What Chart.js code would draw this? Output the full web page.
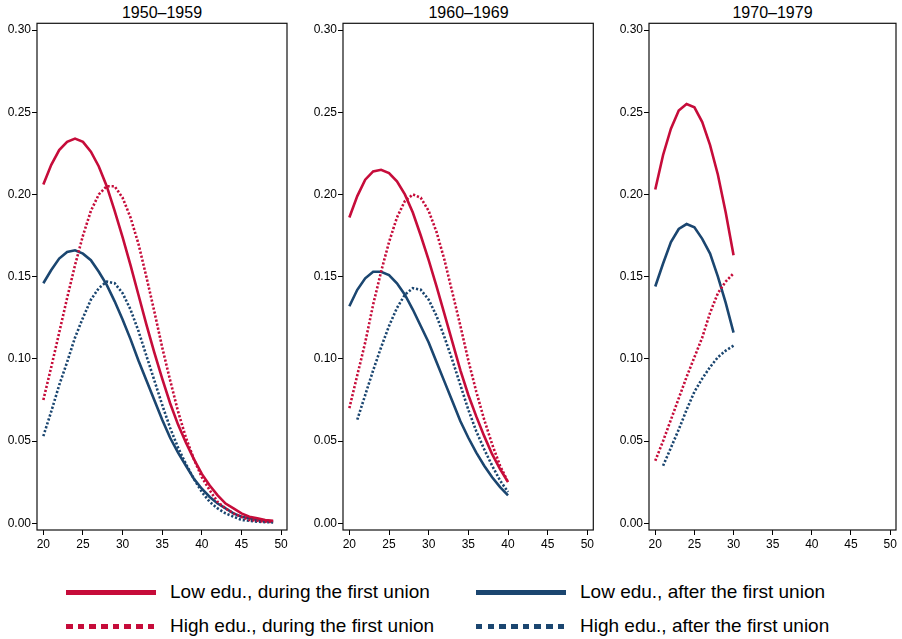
<!DOCTYPE html>
<html>
<head>
<meta charset="utf-8">
<script src="https://cdn.jsdelivr.net/npm/chart.js@4.4.1/dist/chart.umd.min.js"></script>
<style>
  html, body { margin:0; padding:0; background:#fff; width:902px; height:639px; overflow:hidden; }
  body { position:relative; font-family:'Liberation Sans', Arial, sans-serif; }
  .panel { position:absolute; top:0; }
  .title { position:absolute; top:3px; font-size:16px; color:#000; text-align:center; line-height:20px; }
  .legend-item { position:absolute; display:flex; align-items:center; font-size:19px; color:#000; height:26px; white-space:nowrap; }
  .sw { width:90px; height:5px; margin-right:14px; flex:none; }
</style>
</head>
<body>
<div class="title" style="left:37px;width:250px;">1950–1959</div>
<div class="title" style="left:343px;width:251px;">1960–1969</div>
<div class="title" style="left:649px;width:247px;">1970–1979</div>
<div class="panel" style="left:0px;width:295px;height:556px;"><canvas id="c1"></canvas></div>
<div class="panel" style="left:306px;width:295px;height:556px;"><canvas id="c2"></canvas></div>
<div class="panel" style="left:612px;width:290px;height:556px;"><canvas id="c3"></canvas></div>

<div class="legend-item" style="left:66px;top:579px;"><div class="sw" style="background:#C60C3A;"></div>Low edu., during the first union</div>
<div class="legend-item" style="left:476px;top:579px;"><div class="sw" style="background:#1B4670;"></div>Low edu., after the first union</div>
<div class="legend-item" style="left:66px;top:613px;"><div class="sw" style="background:repeating-linear-gradient(to right,#C60C3A 0 6.5px,transparent 6.5px 11.7px);"></div>High edu., during the first union</div>
<div class="legend-item" style="left:476px;top:613px;"><div class="sw" style="background:repeating-linear-gradient(to right,#1B4670 0 6.5px,transparent 6.5px 11.7px);"></div>High edu., after the first union</div>

<script>
// ---- data ----
const xTicks = [20, 25, 30, 35, 40, 45, 50];
const yTicks = [0, 0.05, 0.10, 0.15, 0.20, 0.25, 0.30];
const seriesNames = ["Low edu., during the first union", "High edu., during the first union",
                     "Low edu., after the first union", "High edu., after the first union"];

// 1950–1959
const ages1 = [20,21,22,23,24,25,26,27,28,29,30,31,32,33,34,35,36,37,38,39,40,41,42,43,44,45,46,47,48,49];
const lowDuring1  = [0.206,0.218,0.227,0.232,0.234,0.232,0.226,0.217,0.205,0.190,0.174,0.157,0.139,0.121,0.104,0.088,0.073,0.060,0.049,0.039,0.030,0.023,0.017,0.012,0.009,0.006,0.004,0.003,0.002,0.0015];
const highDuring1 = [0.075,0.095,0.116,0.137,0.157,0.175,0.190,0.200,0.205,0.205,0.198,0.186,0.170,0.150,0.129,0.107,0.087,0.068,0.052,0.039,0.028,0.020,0.013,0.009,0.006,0.004,0.002,0.0015,0.001,0.0008];
const lowAfter1   = [0.146,0.154,0.161,0.165,0.166,0.164,0.160,0.153,0.145,0.135,0.124,0.112,0.099,0.087,0.075,0.063,0.052,0.043,0.035,0.027,0.021,0.016,0.012,0.009,0.006,0.004,0.003,0.002,0.0015,0.001];
const highAfter1  = [0.053,0.068,0.084,0.098,0.113,0.125,0.136,0.143,0.147,0.146,0.140,0.130,0.117,0.102,0.087,0.072,0.058,0.046,0.036,0.027,0.019,0.013,0.009,0.006,0.004,0.002,0.0015,0.001,0.0007,0.0005];

// 1960–1969
const ages2 = [20,21,22,23,24,25,26,27,28,29,30,31,32,33,34,35,36,37,38,39,40];
const lowDuring2  = [0.186,0.199,0.209,0.214,0.215,0.213,0.208,0.200,0.189,0.175,0.160,0.144,0.127,0.110,0.093,0.078,0.065,0.053,0.042,0.033,0.025];
const highDuring2 = [0.070,0.090,0.110,0.133,0.153,0.171,0.186,0.196,0.200,0.198,0.190,0.177,0.160,0.140,0.120,0.099,0.080,0.063,0.048,0.035,0.025];
const lowAfter2   = [0.132,0.142,0.149,0.153,0.153,0.151,0.146,0.139,0.130,0.120,0.110,0.098,0.086,0.074,0.062,0.052,0.043,0.035,0.028,0.022,0.017];
const agesHighAfter2 = [21,22,23,24,25,26,27,28,29,30,31,32,33,34,35,36,37,38,39,40];
const highAfter2  = [0.063,0.078,0.093,0.107,0.120,0.131,0.139,0.143,0.142,0.136,0.126,0.113,0.099,0.084,0.069,0.056,0.045,0.035,0.026,0.019];

// 1970–1979
const ages3 = [20,21,22,23,24,25,26,27,28,29,30];
const lowDuring3  = [0.203,0.224,0.240,0.251,0.255,0.253,0.244,0.230,0.212,0.189,0.163];
const highDuring3 = [0.038,0.050,0.063,0.076,0.089,0.101,0.113,0.128,0.140,0.147,0.152];
const lowAfter3   = [0.144,0.158,0.171,0.179,0.182,0.180,0.173,0.164,0.150,0.134,0.116];
const agesHighAfter3 = [21,22,23,24,25,26,27,28,29,30];
const highAfter3  = [0.035,0.046,0.057,0.069,0.080,0.088,0.095,0.101,0.105,0.108];

// ---- styling ----
const RED = '#C60C3A', BLUE = '#1B4670';
const FONT = "'Liberation Sans', Arial, sans-serif";
const pts = (xs, ys) => xs.map((x, i) => ({x, y: ys[i]}));

const framePlugin = {
  id: 'frame',
  afterDraw(chart) {
    const {ctx, chartArea: a} = chart;
    ctx.save();
    ctx.strokeStyle = '#111';
    ctx.lineWidth = 1.2;
    ctx.strokeRect(a.left, a.top, a.right - a.left, a.bottom - a.top);
    ctx.restore();
  }
};

function makeChart(id, padRight, sets) {
  const styles = [
    {color: RED, dash: []},
    {color: RED, dash: [2.2, 1.9]},
    {color: BLUE, dash: []},
    {color: BLUE, dash: [2.2, 1.9]}
  ];
  const datasets = sets.map((d, i) => ({
    label: seriesNames[i],
    data: d,
    borderColor: styles[i].color,
    backgroundColor: styles[i].color,
    borderWidth: 2.6,
    borderDash: styles[i].dash,
    borderCapStyle: 'butt',
    pointRadius: 0,
    tension: 0,
    fill: false
  }));
  // draw order: dotted behind solid similar to reference
  new Chart(document.getElementById(id), {
    type: 'line',
    data: { datasets },
    options: {
      responsive: true,
      maintainAspectRatio: false,
      animation: false,
      layout: { padding: { top: 23.3, right: padRight, left: 0, bottom: 0 } },
      plugins: { legend: { display: false }, title: { display: false }, tooltip: { enabled: false } },
      scales: {
        x: {
          type: 'linear', min: 19.2, max: 50.75,
          afterBuildTicks: s => { s.ticks = xTicks.map(v => ({value: v})); },
          afterFit: s => { s.height = 26; },
          grid: { display: true, drawOnChartArea: false, drawTicks: true, tickLength: 5, color: '#000', lineWidth: 1 },
          border: { display: false },
          ticks: { color: '#000', font: { family: FONT, size: 12 }, padding: 2, maxRotation: 0 }
        },
        y: {
          type: 'linear', min: -0.0041, max: 0.3041,
          afterBuildTicks: s => { s.ticks = yTicks.map(v => ({value: v})); },
          afterFit: s => { s.width = 37; },
          grid: { display: true, drawOnChartArea: false, drawTicks: true, tickLength: 5, color: '#000', lineWidth: 1 },
          border: { display: false },
          ticks: { color: '#000', font: { family: FONT, size: 12 }, padding: 1, callback: v => v.toFixed(2) }
        }
      }
    },
    plugins: [framePlugin]
  });
}

makeChart('c1', 8, [pts(ages1, lowDuring1), pts(ages1, highDuring1), pts(ages1, lowAfter1), pts(ages1, highAfter1)]);
makeChart('c2', 7.7, [pts(ages2, lowDuring2), pts(ages2, highDuring2), pts(ages2, lowAfter2), pts(agesHighAfter2, highAfter2)]);
makeChart('c3', 6, [pts(ages3, lowDuring3), pts(ages3, highDuring3), pts(ages3, lowAfter3), pts(agesHighAfter3, highAfter3)]);
</script>
</body>
</html>
